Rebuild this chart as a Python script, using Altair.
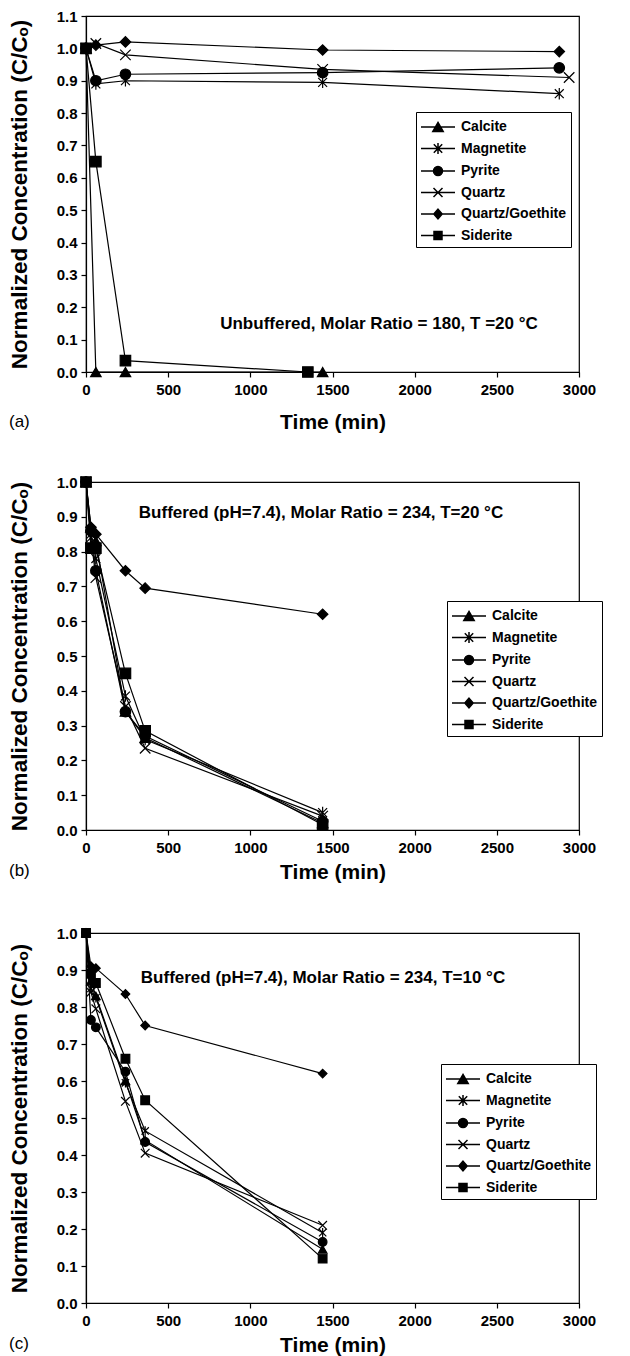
import altair as alt
import pandas as pd

FONT = "Liberation Sans"

MINERALS = ["Calcite", "Magnetite", "Pyrite", "Quartz", "Quartz/Goethite", "Siderite"]

# ---------------- panel (a): unbuffered, molar ratio 180, 20 C ----------------
A_TIME = {
    "Calcite": [0, 60, 240, 1440],
    "Magnetite": [0, 60, 240, 1440, 2880],
    "Pyrite": [0, 60, 240, 1440, 2880],
    "Quartz": [0, 60, 240, 1440, 2940],
    "Quartz/Goethite": [0, 60, 240, 1440, 2880],
    "Siderite": [0, 60, 240, 1350],
}
A_CONC = {
    "Calcite": [1.0, 0.0, 0.0, 0.0],
    "Magnetite": [1.0, 0.89, 0.90, 0.895, 0.86],
    "Pyrite": [1.0, 0.90, 0.92, 0.925, 0.94],
    "Quartz": [1.0, 1.015, 0.98, 0.935, 0.91],
    "Quartz/Goethite": [1.0, 1.01, 1.02, 0.995, 0.99],
    "Siderite": [1.0, 0.65, 0.035, 0.0],
}

# ---------------- panel (b): buffered pH 7.4, molar ratio 234, 20 C ----------------
B_TIMES = [0, 30, 60, 240, 360, 1440]
B_CONC = {
    "Calcite": [1.0, 0.87, 0.83, 0.34, 0.265, 0.02],
    "Magnetite": [1.0, 0.85, 0.78, 0.385, 0.26, 0.05],
    "Pyrite": [1.0, 0.86, 0.745, 0.34, 0.27, 0.025],
    "Quartz": [1.0, 0.84, 0.725, 0.355, 0.235, 0.04],
    "Quartz/Goethite": [1.0, 0.87, 0.85, 0.745, 0.695, 0.62],
    "Siderite": [1.0, 0.81, 0.81, 0.45, 0.285, 0.015],
}

# ---------------- panel (c): buffered pH 7.4, molar ratio 234, 10 C ----------------
C_TIMES = [0, 30, 60, 240, 360, 1440]
C_CONC = {
    "Calcite": [1.0, 0.87, 0.83, 0.60, 0.44, 0.145],
    "Magnetite": [1.0, 0.85, 0.825, 0.595, 0.465, 0.19],
    "Pyrite": [1.0, 0.765, 0.745, 0.625, 0.435, 0.165],
    "Quartz": [1.0, 0.84, 0.795, 0.545, 0.405, 0.21],
    "Quartz/Goethite": [1.0, 0.91, 0.905, 0.835, 0.75, 0.62],
    "Siderite": [1.0, 0.89, 0.865, 0.66, 0.548, 0.12],
}

X_TICKS = [0, 500, 1000, 1500, 2000, 2500, 3000]
Y_TICKS_A = [0.0, 0.1, 0.2, 0.3, 0.4, 0.5, 0.6, 0.7, 0.8, 0.9, 1.0, 1.1]
Y_TICKS_BC = [0.0, 0.1, 0.2, 0.3, 0.4, 0.5, 0.6, 0.7, 0.8, 0.9, 1.0]

ANN_A = "Unbuffered, Molar Ratio = 180, T =20 °C"
ANN_B = "Buffered (pH=7.4), Molar Ratio = 234, T=20 °C"
ANN_C = "Buffered (pH=7.4), Molar Ratio = 234, T=10 °C"

Y_TITLE = "Normalized Concentration (C/Cₒ)"
X_TITLE = "Time (min)"

# marker shapes (unit coordinates)
ASTER = "M-0.85,-0.85L0.85,0.85M-0.85,0.85L0.85,-0.85M0,-1.1V1.1"
XMARK = "M-1,-1L1,1M-1,1L1,-1"
MARKERS = ["triangle-up", ASTER, "circle", XMARK, "diamond", "square"]

# legend symbols: a short line with the marker in its middle
LINE = "M-1.7,0H1.7"
LEGEND_SYMBOLS = [
    LINE + "M0,-0.45L0.52,0.45L-0.52,0.45Z",
    LINE + "M-0.42,-0.42L0.42,0.42M-0.42,0.42L0.42,-0.42M0,-0.55V0.55",
    LINE + "M-0.45,0A0.45,0.45 0 1,0 0.45,0A0.45,0.45 0 1,0 -0.45,0Z",
    LINE + "M-0.45,-0.45L0.45,0.45M-0.45,0.45L0.45,-0.45",
    LINE + "M0,-0.48L0.42,0L0,0.48L-0.42,0Z",
    LINE + "M-0.4,-0.4H0.4V0.4H-0.4Z",
]

W = 493


def table(time_map, conc_map):
    rows = []
    for m in MINERALS:
        for t, c in zip(time_map[m], conc_map[m]):
            rows.append({"time": t, "conc": c, "mineral": m})
    return pd.DataFrame(rows)


def panel(df, ymax, yticks, height, pt_size, ann, ann_x, ann_y, tag, tag_dy,
          leg_x, leg_y, title_pad):
    x = alt.X("time:Q", scale=alt.Scale(domain=[0, 3000], nice=False),
              axis=alt.Axis(values=X_TICKS, format="d", title=X_TITLE,
                            titlePadding=title_pad, labelPadding=5,
                            labelFlush=False))
    y = alt.Y("conc:Q", scale=alt.Scale(domain=[0, ymax], nice=False),
              axis=alt.Axis(values=yticks, format=".1f", title=Y_TITLE,
                            titlePadding=24.5, labelPadding=4,
                            titleFontSize=22.5, labelFlush=False))
    base = alt.Chart(df).encode(x=x, y=y)
    lines = base.mark_line(color="black", strokeWidth=1.2).encode(
        detail="mineral:N", order="time:Q")
    pts = base.mark_point(filled=True, fill="black", stroke="black",
                          strokeWidth=1.2, size=pt_size, opacity=1).encode(
        shape=alt.Shape("mineral:N",
                        scale=alt.Scale(domain=MINERALS, range=MARKERS),
                        legend=None))
    leg = base.mark_point(filled=True, fill="black", stroke="black",
                          strokeWidth=1.3, size=400, opacity=0).encode(
        shape=alt.Shape("mineral:N",
                        scale=alt.Scale(domain=MINERALS, range=LEGEND_SYMBOLS),
                        legend=alt.Legend(title=None, orient="none",
                                          legendX=leg_x, legendY=leg_y,
                                          symbolSize=400, symbolOffset=7,
                                          labelOffset=12, rowPadding=2.5,
                                          padding=4, symbolOpacity=1,
                                          strokeColor="black",
                                          fillColor="white",
                                          labelFont=FONT, labelFontSize=14,
                                          labelFontWeight="bold",
                                          labelColor="black")))
    one = alt.Data(values=[{}])
    note = alt.Chart(one).mark_text(
        font=FONT, fontSize=17, fontWeight="bold", align="center",
        baseline="middle", color="black").encode(
        x=alt.value(ann_x), y=alt.value(ann_y), text=alt.value(ann))
    label = alt.Chart(one).mark_text(
        font=FONT, fontSize=17, align="left", baseline="middle",
        color="black").encode(
        x=alt.value(-77), y=alt.value(height + tag_dy), text=alt.value(tag))
    return alt.layer(lines, pts, leg, note, label).resolve_scale(
        shape="independent").properties(width=W, height=height)


pa = panel(table(A_TIME, A_CONC), 1.1, Y_TICKS_A, 356, 110,
           ANN_A, 293, 308, "(a)", 50, 330, 96, 14)
pb = panel(table({m: B_TIMES for m in MINERALS}, B_CONC), 1.0, Y_TICKS_BC, 348, 110,
           ANN_B, 235, 31, "(b)", 41, 361, 119, 6)
pc = panel(table({m: C_TIMES for m in MINERALS}, C_CONC), 1.0, Y_TICKS_BC, 370, 75,
           ANN_C, 237, 45, "(c)", 41, 355, 131, 6)

lower = alt.vconcat(pb, pc, spacing=42).resolve_scale(
    shape="independent").resolve_legend(shape="independent")

chart = alt.vconcat(pa, lower, spacing=40, background="white",
                    padding=0).resolve_scale(
    shape="independent").resolve_legend(shape="independent").configure_view(
    stroke="black", strokeWidth=1.2).configure_axis(
    labelFont=FONT, titleFont=FONT, labelFontSize=15, titleFontSize=21,
    labelFontWeight="bold", titleFontWeight="bold", labelColor="black",
    titleColor="black", domainColor="black", tickColor="black",
    domainWidth=1.2, tickWidth=1.2, tickSize=5, grid=False)

chart.save("out.html", embed_options={"renderer": "svg", "actions": False})
